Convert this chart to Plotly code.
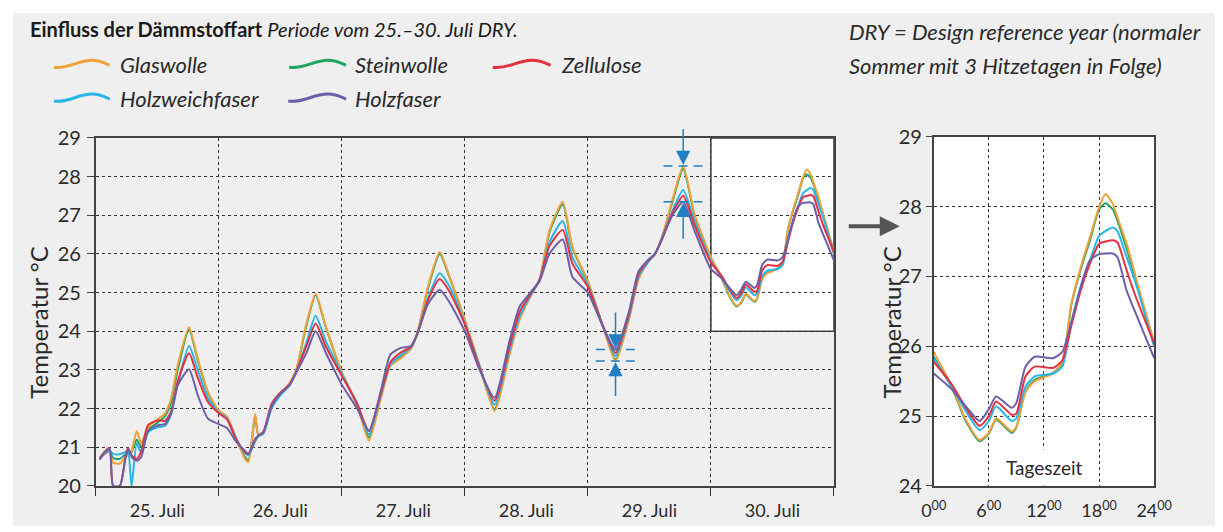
import plotly.graph_objects as go

W, H = 1223, 532
# the page is photographed with a small offset/scale; positions below are target pixels
SX, OX = 0.977, 11.1
SY, OY = 0.96, 11.5
def px(x):
    return (x - OX) / SX / W
def py(y):
    return 1 - (y - OY) / SY / H

FONT = "Lato, sans-serif"
TXT = "#2a2a2a"

series_names = ["Steinwolle", "Glaswolle", "Holzweichfaser", "Zellulose", "Holzfaser"]
series_colors = ["#1fa463", "#f2a03a", "#28b6e8", "#e5313f", "#6e5ea8"]

day_labels = ["25. Juli", "26. Juli", "27. Juli", "28. Juli", "29. Juli", "30. Juli"]
hour_labels = ["0<sup>00</sup>", "6<sup>00</sup>", "12<sup>00</sup>", "18<sup>00</sup>", "24<sup>00</sup>"]
hour_ticks = [0, 6, 12, 18, 24]

# hours since 25. Juli 0:00 (25.-29. Juli)
hours_25_29 = [0.8, 1.5, 2.7, 3.4, 4.7, 5.8, 6.3, 7.0, 8.0, 8.9, 10.2, 12.2, 13.5, 14.7, 16.0, 18.2, 19.9, 21.9, 24.0,
               25.6, 27.5, 29.1, 29.8, 31.1, 31.7, 32.7, 34.3, 35.9, 37.8, 39.1, 41.1, 42.9, 44.9, 48.0,
               51.0, 53.3, 55.6, 57.5, 59.5, 61.5, 62.8, 64.8, 67.1, 69.0, 72.0,
               74.9, 77.8, 80.8, 82.7, 84.6, 86.6, 88.5, 91.1, 93.0, 96.0,
               99.0, 101.4, 104.0, 105.9, 107.8, 109.1, 110.4, 112.3, 114.6, 116.8]

glaswolle_25_29 = [20.72, 20.8, 20.88, 20.6, 20.58, 20.75, 20.8, 20.9, 21.42, 21.1, 21.52, 21.74, 21.87, 22.26, 23.13, 24.1, 23.3, 22.43, 21.95,
                   21.8, 21.2, 20.7, 20.62, 21.86, 21.34, 21.38, 22.06, 22.37, 22.66, 23.0, 24.2, 24.97, 24.12, 22.95,
                   22.1, 21.17, 22.25, 23.1, 23.3, 23.55, 24.0, 25.15, 26.05, 25.42, 24.3,
                   23.1, 21.94, 23.44, 24.3, 24.85, 25.35, 26.6, 27.35, 26.17, 25.3,
                   24.1, 23.23, 24.3, 25.35, 25.8, 26.0, 26.4, 27.3, 28.27, 27.03]
steinwolle_25_29 = [20.72, 20.8, 20.9, 20.72, 20.7, 20.82, 20.85, 20.88, 21.2, 21.0, 21.45, 21.65, 21.8, 22.15, 23.0, 24.05, 23.25, 22.4, 21.92,
                    21.78, 21.2, 20.75, 20.66, 21.82, 21.32, 21.38, 22.05, 22.37, 22.64, 22.98, 24.15, 24.94, 24.1, 22.92,
                    22.12, 21.25, 22.3, 23.12, 23.33, 23.55, 23.98, 25.1, 26.0, 25.4, 24.28,
                    23.1, 21.98, 23.48, 24.33, 24.86, 25.35, 26.55, 27.28, 26.15, 25.28,
                    24.1, 23.27, 24.33, 25.38, 25.8, 26.0, 26.4, 27.25, 28.2, 27.0]
holzweichfaser_25_29 = [20.75, 20.82, 20.92, 20.83, 20.82, 20.88, 20.9, 20.0, 21.1, 20.85, 21.38, 21.52, 21.55, 21.85, 22.62, 23.62, 23.0, 22.26, 21.9,
                        21.75, 21.2, 20.85, 20.8, 21.15, 21.28, 21.35, 22.0, 22.33, 22.6, 22.95, 23.7, 24.4, 23.74, 22.9,
                        22.12, 21.33, 22.35, 23.15, 23.38, 23.58, 23.95, 24.85, 25.5, 25.16, 24.22,
                        23.08, 22.1, 23.55, 24.4, 24.88, 25.33, 26.3, 26.85, 25.91, 25.2,
                        24.12, 23.36, 24.38, 25.42, 25.8, 26.0, 26.38, 27.05, 27.65, 26.85]
zellulose_25_29 = [20.7, 20.85, 20.98, 20.0, 20.0, 20.75, 20.98, 20.8, 20.7, 20.9, 21.57, 21.7, 21.68, 21.92, 22.7, 23.43, 22.8, 22.17, 21.88,
                   21.72, 21.18, 20.88, 20.83, 21.21, 21.3, 21.4, 22.12, 22.4, 22.62, 22.95, 23.62, 24.2, 23.6, 22.85,
                   22.12, 21.42, 22.38, 23.2, 23.45, 23.6, 23.95, 24.8, 25.35, 25.03, 24.18,
                   23.05, 22.2, 23.65, 24.5, 24.92, 25.33, 26.2, 26.62, 25.74, 25.15,
                   24.12, 23.44, 24.42, 25.48, 25.83, 26.0, 26.38, 27.0, 27.5, 26.75]
holzfaser_25_29 = [20.68, 20.82, 20.97, 20.0, 20.0, 20.7, 20.95, 20.75, 20.65, 20.75, 21.42, 21.57, 21.6, 21.87, 22.6, 23.02, 22.35, 21.74, 21.6,
                   21.5, 21.13, 20.91, 20.83, 21.2, 21.3, 21.38, 22.06, 22.37, 22.6, 22.92, 23.44, 24.0, 23.44, 22.62,
                   22.0, 21.42, 22.45, 23.4, 23.57, 23.62, 23.95, 24.7, 25.07, 24.75, 24.0,
                   23.0, 22.28, 23.79, 24.64, 24.97, 25.3, 26.0, 26.37, 25.4, 25.0,
                   24.1, 23.53, 24.5, 25.55, 25.85, 26.0, 26.35, 26.95, 27.35, 26.6]

# 30. Juli, hours of day
hours_30 = [0, 2, 3.5, 5, 6, 6.8, 8.5, 9, 10, 11, 13, 14, 15, 16, 17, 18, 18.7, 19.5, 20, 21, 22, 24]
glaswolle_30 = [25.92, 25.42, 24.95, 24.66, 24.76, 24.97, 24.78, 24.85, 25.35, 25.5, 25.61, 25.78, 26.62, 27.13, 27.56, 27.99, 28.18, 28.04, 27.85, 27.47, 26.99, 26.05]
steinwolle_30 = [25.85, 25.4, 24.93, 24.64, 24.75, 24.95, 24.76, 24.84, 25.36, 25.52, 25.62, 25.76, 26.6, 27.1, 27.51, 27.96, 28.05, 27.96, 27.8, 27.4, 26.95, 26.05]
holzweichfaser_30 = [25.83, 25.42, 25.07, 24.8, 24.93, 25.14, 24.93, 24.97, 25.42, 25.57, 25.61, 25.71, 26.35, 26.85, 27.23, 27.58, 27.65, 27.7, 27.65, 27.28, 26.9, 25.99]
zellulose_30 = [25.78, 25.45, 25.12, 24.86, 25.0, 25.21, 25.02, 25.04, 25.57, 25.71, 25.69, 25.8, 26.3, 26.8, 27.18, 27.47, 27.5, 27.52, 27.49, 27.09, 26.71, 26.04]
holzfaser_30 = [25.61, 25.38, 25.14, 24.93, 25.1, 25.28, 25.12, 25.19, 25.71, 25.85, 25.83, 25.92, 26.35, 26.85, 27.23, 27.32, 27.33, 27.33, 27.28, 26.8, 26.47, 25.83]

data_25_29 = [steinwolle_25_29, glaswolle_25_29, holzweichfaser_25_29, zellulose_25_29, holzfaser_25_29]
data_30 = [steinwolle_30, glaswolle_30, holzweichfaser_30, zellulose_30, holzfaser_30]

fig = go.Figure()

x_main = [h / 24 for h in hours_25_29] + [5 + h / 24 for h in hours_30]
for name, col, a, b in zip(series_names, series_colors, data_25_29, data_30):
    fig.add_trace(go.Scatter(x=x_main, y=a + b, mode="lines", name=name,
                             line=dict(color=col, width=2, shape="spline", smoothing=0.6),
                             showlegend=False, xaxis="x", yaxis="y", hoverinfo="skip"))
for name, col, b in zip(series_names, series_colors, data_30):
    fig.add_trace(go.Scatter(x=hours_30, y=b, mode="lines", name=name,
                             line=dict(color=col, width=2, shape="spline", smoothing=0.6),
                             showlegend=False, xaxis="x2", yaxis="y2", hoverinfo="skip"))

GRID = dict(showgrid=True, gridcolor="#333", griddash="dot", gridwidth=1)
AXL = dict(showline=True, linecolor="#444", linewidth=1.6, mirror=True, zeroline=False)

fig.update_layout(
    width=W, height=H,
    margin=dict(l=0, r=0, t=0, b=0),
    paper_bgcolor="white",
    plot_bgcolor="#efefef",
    font=dict(family=FONT, color=TXT),
    showlegend=False,
    xaxis=dict(domain=[px(94), px(834)], range=[0, 6], tickmode="array",
               tickvals=[i + 0.5 for i in range(6)], ticktext=day_labels,
               showgrid=False, ticks="outside", ticklen=8, tickcolor="rgba(0,0,0,0)",
               tickfont=dict(size=18, color=TXT),
               minor=dict(tickmode="linear", tick0=0, dtick=1, showgrid=True, gridcolor="#333",
                          griddash="dot", gridwidth=1, ticks="outside", ticklen=8, tickcolor="#333"),
               **AXL),
    yaxis=dict(domain=[py(487), py(137)], range=[20, 29], dtick=1, ticks="outside", ticklen=7,
               tickcolor="#444", tickfont=dict(size=20, color=TXT), ticklabelstandoff=2,
               **GRID, **AXL),
    xaxis2=dict(domain=[px(934), px(1155)], range=[0, 24], tickmode="array", tickvals=hour_ticks,
                ticktext=hour_labels, ticks="outside", ticklen=8, tickcolor="rgba(0,0,0,0)",
                tickfont=dict(size=18, color=TXT), anchor="y2", **GRID, **AXL),
    yaxis2=dict(domain=[py(487), py(136)], range=[24, 29], dtick=1, ticks="outside", ticklen=6,
                tickcolor="#444", tickfont=dict(size=20, color=TXT), anchor="x2",
                **GRID, **AXL),
)

shapes = []
shapes.append(dict(type="rect", xref="paper", yref="paper", x0=max(px(7), 0), x1=px(1216),
                   y0=py(527), y1=min(py(7), 1), fillcolor="#efefef", line=dict(width=0), layer="below"))
shapes.append(dict(type="rect", xref="x", yref="y", x0=5, x1=6, y0=24, y1=29,
                   fillcolor="white", line=dict(color="#444", width=1.6), layer="below"))
shapes.append(dict(type="rect", xref="x2 domain", yref="y2 domain", x0=0, x1=1, y0=0, y1=1,
                   fillcolor="white", line=dict(width=0), layer="below"))

def wave(x0, x1, yc):
    w = x1 - x0
    pts = [(x0, yc + 3), (x0 + 0.28 * w, yc + 5), (x0 + 0.42 * w, yc - 4), (x0 + 0.68 * w, yc - 4),
           (x0 + 0.82 * w, yc - 4), (x0 + 0.92 * w, yc - 1), (x1, yc + 1)]
    return "M {},{} C {},{} {},{} {},{} C {},{} {},{} {},{}".format(
        *[v for p in pts for v in (px(p[0]), py(p[1]))])

legend_map = {"Glaswolle": (52, 108, 63, 116), "Steinwolle": (288, 345, 63, 352),
              "Zellulose": (492, 550, 63, 558), "Holzweichfaser": (52, 108, 97, 116),
              "Holzfaser": (287, 345, 97, 352)}

annotations = []
for name in ["Glaswolle", "Steinwolle", "Zellulose", "Holzweichfaser", "Holzfaser"]:
    col = series_colors[series_names.index(name)]
    x0, x1, yc, tx = legend_map[name]
    shapes.append(dict(type="path", xref="paper", yref="paper", path=wave(x0, x1, yc),
                       line=dict(color=col, width=3)))
    annotations.append(dict(xref="paper", yref="paper", x=px(tx), y=py(yc), xanchor="left",
                            yanchor="middle", showarrow=False, text="<i>%s</i>" % name,
                            font=dict(size=22, color=TXT)))

BLUE = "#1f7fc2"
d29 = [i for i, h in enumerate(hours_25_29) if 96 <= h <= 120]
i_max = max(d29, key=lambda i: glaswolle_25_29[i])
i_min = min(d29, key=lambda i: glaswolle_25_29[i])
xmax = hours_25_29[i_max] / 24
xmin = hours_25_29[i_min] / 24
for xc, yv in [(xmax, glaswolle_25_29[i_max]), (xmax, holzfaser_25_29[i_max]),
               (xmin, glaswolle_25_29[i_min]), (xmin, holzfaser_25_29[i_min])]:
    shapes.append(dict(type="line", xref="x", yref="y", x0=xc - 0.16, x1=xc + 0.16, y0=yv, y1=yv,
                       line=dict(color=BLUE, width=1.5, dash="9px,6px")))
arrow_specs = [(xmax, glaswolle_25_29[i_max], -46), (xmax, holzfaser_25_29[i_max], 46),
               (xmin, holzfaser_25_29[i_min], -46), (xmin, glaswolle_25_29[i_min], 44)]
for xc, yv, ay in arrow_specs:
    annotations.append(dict(xref="x", yref="y", x=xc, y=yv, ax=0, ay=ay, text=" ", showarrow=True,
                            arrowhead=2, arrowsize=1.9, arrowwidth=1.5, arrowcolor=BLUE, standoff=1))

annotations += [
    dict(xref="paper", yref="paper", x=px(26), y=py(28), xanchor="left", yanchor="middle", showarrow=False,
         text="<b>Einfluss der Dämmstoffart</b> <span style='font-size:20px'><i>Periode vom 25.–30. Juli DRY.</i></span>",
         font=dict(size=20, color="#1a1a1a")),
    dict(xref="paper", yref="paper", x=px(847), y=py(30), xanchor="left", yanchor="middle", showarrow=False,
         text="<i>DRY = Design reference year (normaler</i>", font=dict(size=22, color=TXT)),
    dict(xref="paper", yref="paper", x=px(847), y=py(64), xanchor="left", yanchor="middle", showarrow=False,
         text="<i>Sommer mit 3 Hitzetagen in Folge)</i>", font=dict(size=22, color=TXT)),
    dict(xref="paper", yref="paper", x=px(37), y=py(323), xanchor="center", yanchor="middle", showarrow=False,
         text="Temperatur °C", textangle=-90, font=dict(size=24, color=TXT)),
    dict(xref="paper", yref="paper", x=px(892), y=py(323), xanchor="center", yanchor="middle", showarrow=False,
         text="Temperatur °C", textangle=-90, font=dict(size=24, color=TXT)),
    dict(xref="x2", yref="y2", x=12, y=24, xanchor="center", yanchor="bottom", showarrow=False,
         text="Tageszeit", bgcolor="white", borderpad=6, font=dict(size=19, color=TXT)),
    dict(xref="paper", yref="paper", x=px(900), y=py(226), ax=-54, ay=0, text=" ", showarrow=True,
         arrowhead=2, arrowsize=1.0, arrowwidth=4, arrowcolor="#555"),
]

fig.update_layout(shapes=shapes, annotations=annotations)
fig.write_html("out.html", config={"displayModeBar": False},
               post_script="document.body.style.margin='0';document.body.style.overflow='hidden';")
